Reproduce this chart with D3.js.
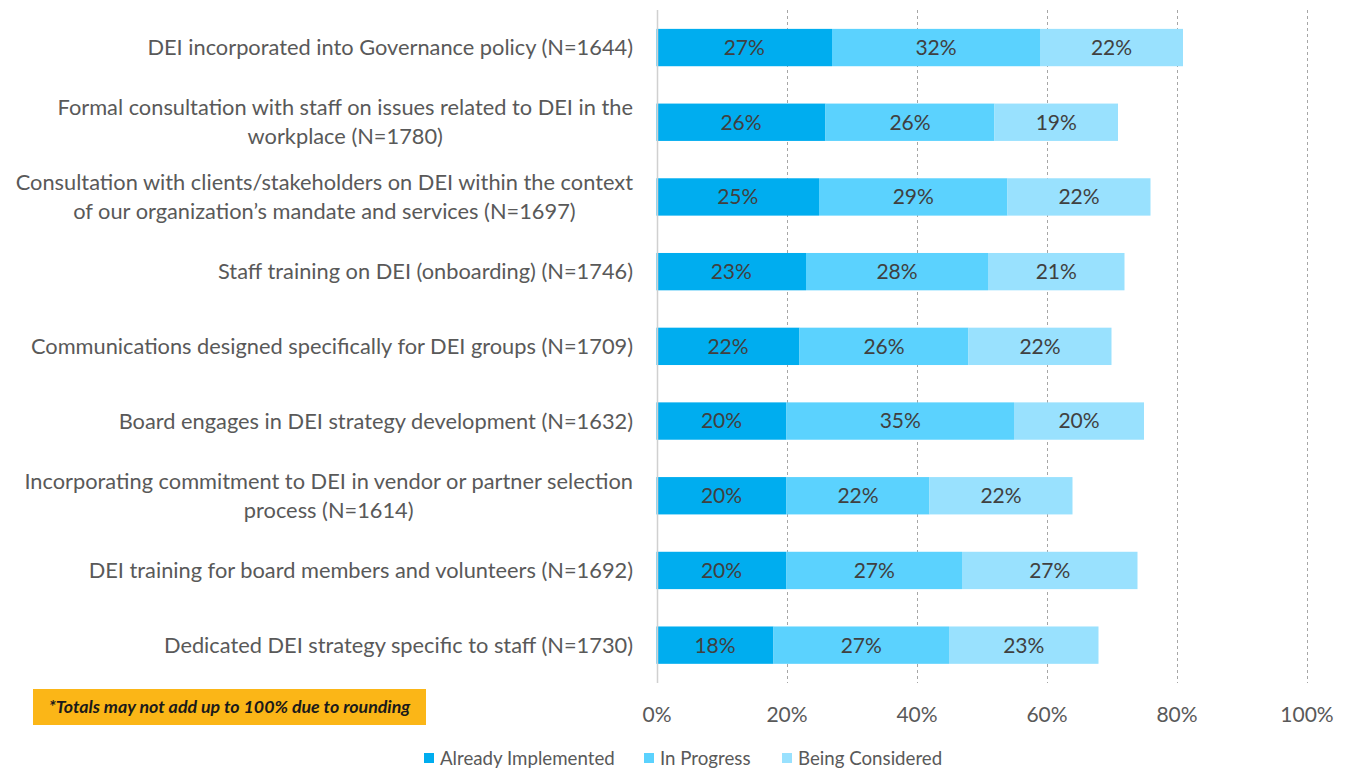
<!DOCTYPE html>
<html>
<head>
<meta charset="utf-8">
<script src="https://cdn.jsdelivr.net/npm/d3@7"></script>
<style>
  html, body { margin: 0; padding: 0; background: #ffffff; }
  svg { display: block; font-family: Lato, "Open Sans", sans-serif; }
</style>
</head>
<body>
<svg id="chart" width="1348" height="770"></svg>
<script>
// Categories (each entry is the list of lines shown on the axis)
const categories = [
  ["DEI incorporated into Governance policy (N=1644)"],
  ["Formal consultation with staff on issues related to DEI in the", "workplace (N=1780)"],
  ["Consultation with clients/stakeholders on DEI within the context", "of our organization\u2019s mandate and services (N=1697)"],
  ["Staff training on DEI (onboarding) (N=1746)"],
  ["Communications designed specifically for DEI groups (N=1709)"],
  ["Board engages in DEI strategy development (N=1632)"],
  ["Incorporating commitment to DEI in vendor or partner selection", "process (N=1614)"],
  ["DEI training for board members and volunteers (N=1692)"],
  ["Dedicated DEI strategy specific to staff (N=1730)"]
];

const seriesNames = ["Already Implemented", "In Progress", "Being Considered"];
const alreadyImplemented = [27, 26, 25, 23, 22, 20, 20, 20, 18];
const inProgress         = [32, 26, 29, 28, 26, 35, 22, 27, 27];
const beingConsidered    = [22, 19, 22, 21, 22, 20, 22, 27, 23];
const xTicks = [0, 20, 40, 60, 80, 100];
const footnote = "*Totals may not add up to 100% due to rounding";

const colors = ["#00adef", "#5bd2fe", "#99e1fe"];

const svg = d3.select("#chart");

const x = d3.scaleLinear().domain([0, 100]).range([656.5, 1306.5]);
const y = d3.scaleBand()
  .domain(d3.range(categories.length))
  .range([10.2, 682.5])
  .paddingInner(0.5)
  .paddingOuter(0.25);

// Dashed gridlines at the non-zero ticks
svg.append("g")
  .selectAll("line")
  .data(xTicks.filter(t => t > 0))
  .join("line")
  .attr("x1", d => Math.round(x(d)) + 0.5)
  .attr("x2", d => Math.round(x(d)) + 0.5)
  .attr("y1", 10)
  .attr("y2", 683)
  .attr("stroke", "#a6a6a6")
  .attr("stroke-width", 1)
  .attr("stroke-dasharray", "3,3");

// Stacked data
const rows = categories.map((c, i) => ({
  i,
  vals: [alreadyImplemented[i], inProgress[i], beingConsidered[i]]
}));
const stacked = d3.stack().keys([0, 1, 2]).value((d, k) => d.vals[k])(rows);

const layers = svg.append("g").selectAll("g")
  .data(stacked)
  .join("g")
  .attr("fill", (d, k) => colors[k]);

layers.selectAll("rect")
  .data(d => d)
  .join("rect")
  .attr("x", d => x(d[0]))
  .attr("width", d => x(d[1]) - x(d[0]))
  .attr("y", d => y(d.data.i))
  .attr("height", y.bandwidth());

// Value labels
layers.selectAll("text")
  .data(d => d.map(p => ({ p, k: d.key })))
  .join("text")
  .attr("x", d => (x(d.p[0]) + x(d.p[1])) / 2)
  .attr("y", d => y(d.p.data.i) + y.bandwidth() / 2)
  .attr("dy", "0.35em")
  .attr("text-anchor", "middle")
  .attr("fill", "#404040")
  .attr("font-size", 21)
  .text(d => d.p.data.vals[d.k] + "%");

// Zero axis line
svg.append("line")
  .attr("x1", Math.round(x(0)) + 0.5)
  .attr("x2", Math.round(x(0)) + 0.5)
  .attr("y1", 10)
  .attr("y2", 683)
  .attr("stroke", "#d0d0d0")
  .attr("stroke-width", 1.5);

// Category labels: lines centred on the widest line, block right-aligned
const labelRight = 633;
const lineH = 29;
const catG = svg.append("g")
  .attr("fill", "#595959")
  .attr("font-size", 21.8);

categories.forEach((lines, i) => {
  const cy = y(i) + y.bandwidth() / 2;
  const g = catG.append("g");
  const texts = lines.map((ln, j) => g.append("text")
    .attr("y", cy + (j - (lines.length - 1) / 2) * lineH)
    .attr("dy", "0.35em")
    .attr("text-anchor", "middle")
    .text(ln));
  const maxW = d3.max(texts, t => t.node().getComputedTextLength());
  texts.forEach(t => t.attr("x", labelRight - maxW / 2));
});

// X axis tick labels
const xAxis = d3.axisBottom(x)
  .tickValues(xTicks)
  .tickFormat(d => d + "%")
  .tickSize(0)
  .tickPadding(0);
const axG = svg.append("g")
  .attr("transform", "translate(0,715)")
  .call(xAxis);
axG.select(".domain").remove();
axG.selectAll("text")
  .attr("font-family", "Lato, 'Open Sans', sans-serif")
  .attr("font-size", 21)
  .attr("fill", "#595959")
  .attr("dy", "0.35em");

// Footnote box
const noteG = svg.append("g");
noteG.append("rect")
  .attr("x", 33).attr("y", 689)
  .attr("width", 393).attr("height", 36)
  .attr("fill", "#fbb617");
noteG.append("text")
  .attr("x", 229.5).attr("y", 707)
  .attr("dy", "0.35em")
  .attr("text-anchor", "middle")
  .attr("font-size", 17.8)
  .attr("font-weight", "bold")
  .attr("font-style", "italic")
  .attr("fill", "#1a1a1a")
  .text(footnote);

// Legend
const legendX = [424, 644, 782];
const legG = svg.append("g").attr("font-size", 18.7).attr("fill", "#595959");
seriesNames.forEach((name, k) => {
  legG.append("rect")
    .attr("x", legendX[k]).attr("y", 753)
    .attr("width", 10).attr("height", 10)
    .attr("fill", colors[k]);
  legG.append("text")
    .attr("x", legendX[k] + 16).attr("y", 758.5)
    .attr("dy", "0.35em")
    .text(name);
});
</script>
</body>
</html>
